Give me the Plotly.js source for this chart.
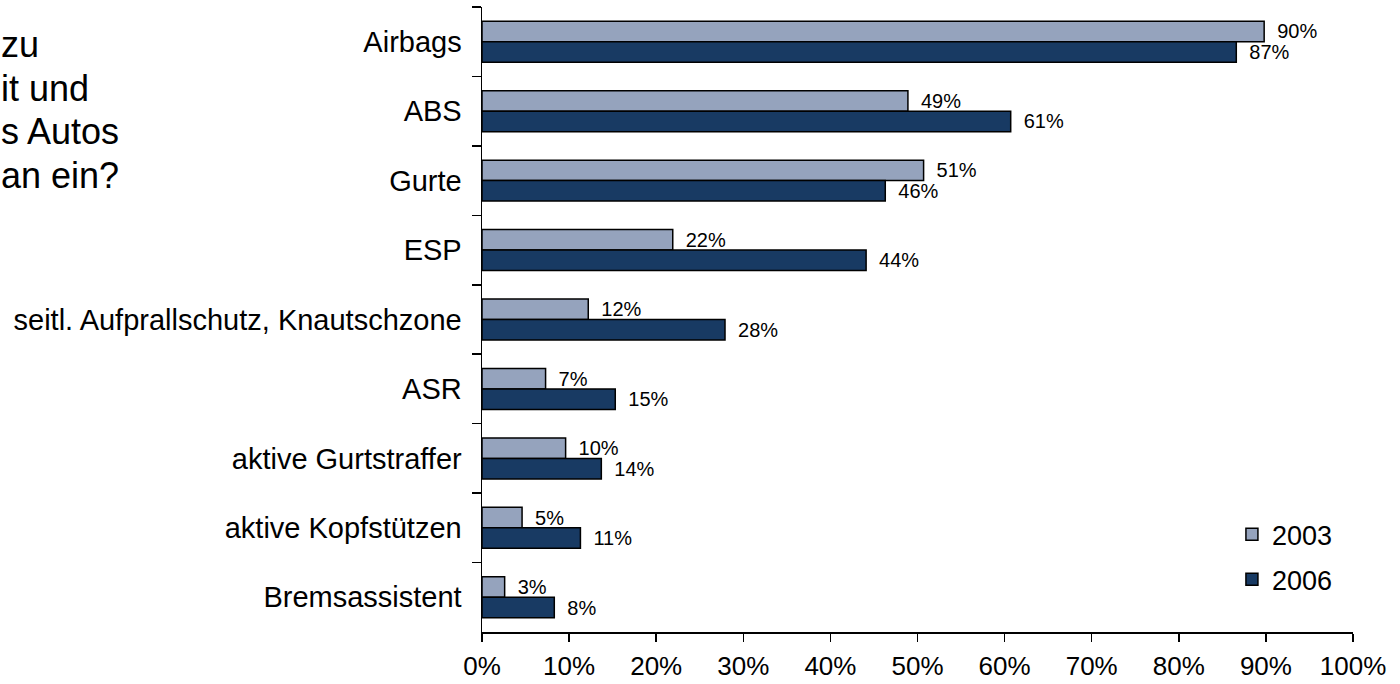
<!DOCTYPE html>
<html>
<head>
<meta charset="utf-8">
<script src="https://cdn.plot.ly/plotly-3.0.1.min.js"></script>
<style>html,body{margin:0;padding:0;background:#fff;}#chart{width:1400px;height:684px;}</style>
</head>
<body>
<div id="chart"></div>
<script>
const categories = ["Airbags", "ABS", "Gurte", "ESP", "seitl. Aufprallschutz, Knautschzone", "ASR", "aktive Gurtstraffer", "aktive Kopfstützen", "Bremsassistent"];
const values2003 = [89.8, 48.9, 50.7, 21.9, 12.2, 7.3, 9.6, 4.6, 2.6];
const values2006 = [86.6, 60.7, 46.3, 44.1, 27.9, 15.3, 13.7, 11.3, 8.3];
const seriesNames = ["2003", "2006"];
const questionLines = ["zu", "it und", "s Autos", "an ein?"];

const FONT = '"Liberation Sans", Arial, sans-serif';
const colors = ["#95A3BD", "#183A63"];

function barTrace(vals, name, color) {
  return {
    type: 'bar', orientation: 'h', x: vals, y: categories, name: name,
    legendgroup: name,
    marker: {color: color, line: {color: '#000', width: 1.5}},
    texttemplate: '\u2002%{x:.0f}%', textposition: 'outside',
    textfont: {family: FONT, size: 20, color: '#000'},
    constraintext: 'none', cliponaxis: false, hoverinfo: 'skip'
  };
}

const data = [barTrace(values2003, seriesNames[0], colors[0]), barTrace(values2006, seriesNames[1], colors[1])];

const lineYpx = [44, 88, 132, 176];
const annotations = questionLines.map((t, i) => ({
  text: t, xref: 'paper', yref: 'paper', x: (-1 - 482) / 871, xanchor: 'left',
  y: (632 - lineYpx[i]) / 625, yanchor: 'middle', showarrow: false, align: 'left',
  font: {family: FONT, size: 36, color: '#000'}
}));

const layout = {
  width: 1400, height: 684,
  margin: {l: 482, r: 47, t: 7, b: 52, pad: 0},
  paper_bgcolor: '#fff', plot_bgcolor: '#fff',
  font: {family: FONT, color: '#000'},
  barmode: 'group', bargap: 0.41, bargroupgap: 0,
  showlegend: true,
  legend: {x: 0.861, xanchor: 'left', y: 0.195, yanchor: 'top', traceorder: 'grouped', tracegroupgap: 7,
           font: {family: FONT, size: 27, color: '#000'}, bgcolor: 'rgba(0,0,0,0)'},
  xaxis: {range: [0, 100], dtick: 10, tick0: 0, ticksuffix: '%', showgrid: false, zeroline: false,
          showline: true, linecolor: '#000', linewidth: 1.5, ticks: 'outside', ticklen: 8, tickwidth: 1.5, tickcolor: '#000',
          ticklabelstandoff: 2,
          tickfont: {family: FONT, size: 26, color: '#000'}, fixedrange: true, automargin: false},
  yaxis: {autorange: 'reversed', type: 'category', showgrid: false, zeroline: false,
          showline: true, linecolor: '#000', linewidth: 1.5, ticks: 'outside', ticklen: 9, tickwidth: 1.5, tickcolor: '#000',
          tickson: 'boundaries', ticklabelstandoff: 13,
          tickfont: {family: FONT, size: 29, color: '#000'}, fixedrange: true, automargin: false},
  annotations: annotations
};

Plotly.newPlot('chart', data, layout, {displayModeBar: false, staticPlot: true});
</script>
</body>
</html>
